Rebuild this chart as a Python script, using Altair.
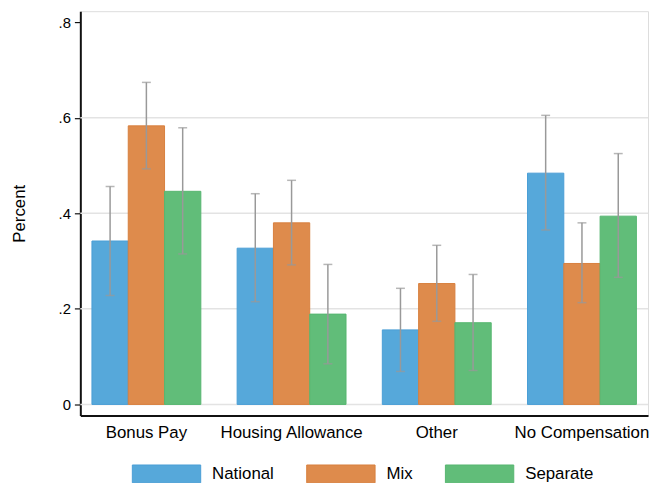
import altair as alt
import pandas as pd

categories = ["Bonus Pay", "Housing Allowance", "Other", "No Compensation"]
groups = ["National", "Mix", "Separate"]
colors = ["#56A8DA", "#DE8B4C", "#61BD79"]
strokes = ["#4A9ED6", "#D8803E", "#57B670"]

national = [0.342, 0.327, 0.156, 0.484]
mix = [0.583, 0.380, 0.253, 0.295]
separate = [0.446, 0.189, 0.171, 0.394]

national_lo = [0.228, 0.215, 0.069, 0.365]
national_hi = [0.456, 0.441, 0.243, 0.605]
mix_lo = [0.493, 0.292, 0.174, 0.213]
mix_hi = [0.674, 0.469, 0.333, 0.380]
separate_lo = [0.315, 0.085, 0.071, 0.266]
separate_hi = [0.579, 0.293, 0.272, 0.525]

y_ticks = [0, 0.2, 0.4, 0.6, 0.8]
grid_values = [0, 0.2, 0.4, 0.6]

rows = []
for g, vals, lo, hi in [
    ("National", national, national_lo, national_hi),
    ("Mix", mix, mix_lo, mix_hi),
    ("Separate", separate, separate_lo, separate_hi),
]:
    for c, v, l, h in zip(categories, vals, lo, hi):
        rows.append({"category": c, "group": g, "value": v, "lo": l, "hi": h})
df = pd.DataFrame(rows)
grid_df = pd.DataFrame({"g": grid_values})

font = "Liberation Sans"
yscale = alt.Scale(domain=[-0.023, 0.823], nice=False, zero=False)
xscale = alt.Scale(domain=categories, paddingInner=0.25, paddingOuter=0.08)

grid = alt.Chart(grid_df).mark_rule(color="#e3e3e3", strokeWidth=1.5).encode(
    y=alt.Y("g:Q", scale=yscale)
)

base = alt.Chart(df)
x_enc = alt.X(
    "category:N",
    scale=xscale,
    sort=categories,
    axis=alt.Axis(
        title=None,
        labelAngle=0,
        ticks=False,
        labelPadding=9,
        labelFontSize=17,
        labelFont=font,
        labelColor="#000",
        domainColor="#111",
        domainWidth=2,
    ),
)
xoff = alt.XOffset("group:N", sort=groups, scale=alt.Scale(domain=groups, paddingInner=0, paddingOuter=0))

bars = base.mark_bar(strokeWidth=1).encode(
    x=x_enc,
    xOffset=xoff,
    y=alt.Y(
        "value:Q",
        scale=yscale,
        axis=alt.Axis(
            title="Percent",
            values=y_ticks,
            grid=False,
            labelExpr="datum.value == 0 ? '0' : replace(format(datum.value, '.1f'), '0.', '.')",
            labelFontSize=15,
            labelFont=font,
            labelColor="#000",
            labelPadding=4,
            tickSize=6,
            tickColor="#111",
            tickWidth=1.2,
            domainColor="#111",
            domainWidth=2,
            titleFont=font,
            titleFontSize=17,
            titleFontWeight="normal",
            titleColor="#000",
            titleX=-52,
        ),
    ),
    color=alt.Color(
        "group:N",
        sort=groups,
        scale=alt.Scale(domain=groups, range=colors),
        legend=alt.Legend(
            title=None,
            orient="none",
            direction="horizontal",
            legendX=52,
            legendY=432,
            symbolType="M-1,-0.26H1V0.26H-1Z",
            symbolSize=4761,
            symbolStrokeWidth=1,
            symbolOpacity=1,
            labelFont=font,
            labelFontSize=17,
            labelColor="#000",
            labelOffset=11,
            columnPadding=30,
        ),
    ),
    stroke=alt.Stroke("group:N", sort=groups, scale=alt.Scale(domain=groups, range=strokes), legend=None),
)

rules = base.mark_rule(color="#999999", strokeWidth=1.5).encode(
    x=alt.X("category:N", scale=xscale, sort=categories),
    xOffset=xoff,
    y=alt.Y("lo:Q", scale=yscale),
    y2="hi:Q",
)
caps_lo = base.mark_tick(color="#999999", size=9, thickness=1.5, orient="horizontal").encode(
    x=alt.X("category:N", scale=xscale, sort=categories),
    xOffset=xoff,
    y=alt.Y("lo:Q", scale=yscale),
)
caps_hi = base.mark_tick(color="#999999", size=9, thickness=1.5, orient="horizontal").encode(
    x=alt.X("category:N", scale=xscale, sort=categories),
    xOffset=xoff,
    y=alt.Y("hi:Q", scale=yscale),
)

chart = (
    alt.layer(grid, bars, rules, caps_lo, caps_hi)
    .properties(
        width=573,
        height=408,
        autosize=alt.AutoSizeParams(type="none"),
        padding={"left": 73, "top": 1, "right": 2, "bottom": 66},
    )
    .configure_view(stroke="#555555", strokeWidth=1.5)
    .configure(background="white")
)

chart.save("out.html", embed_options={"renderer": "svg", "actions": False})
